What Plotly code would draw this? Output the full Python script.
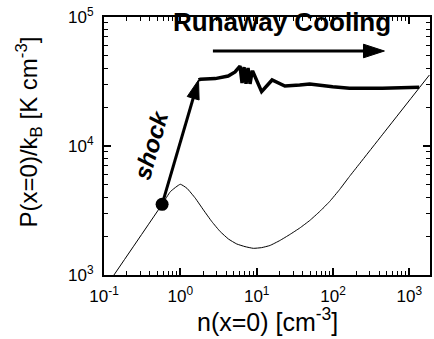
import plotly.graph_objects as go

# Equilibrium (thin) curve
eq_n = [0.135, 0.577, 0.741, 1.0, 1.22, 1.57, 2.01, 2.59, 3.33, 4.27, 5.48, 7.03, 9.04, 11.6, 14.9, 20.1, 27.2, 36.7, 49.5, 66.9, 90.3, 122, 164, 222, 448, 1828]
eq_p = [1000, 3530, 4430, 5050, 4700, 3940, 3190, 2590, 2170, 1900, 1740, 1660, 1610, 1630, 1693, 1850, 2061, 2314, 2645, 3106, 3715, 4600, 5800, 7280, 12340, 35500]

# Runaway cooling (thick) curve
rc_n = [1.73, 1.83, 2.86, 4.23, 5.21, 6.05, 6.43, 6.83, 7.25, 7.7, 8.18, 8.69, 8.95, 11.6, 15.9, 23.4, 36.6, 49.5, 98.9, 164, 444, 1346]
rc_p = [32500, 32900, 33300, 34900, 37500, 41700, 30800, 40900, 30300, 40300, 30300, 37500, 37500, 26400, 32500, 29200, 29700, 30300, 28800, 28000, 28000, 28500]

# Initial state (dot), shock arrow, runaway-cooling arrow
dot_n = [0.577]
dot_p = [3530]
shock_n = [0.577, 1.73]
shock_p = [3530, 32500]
cool_n = [2.67, 471]
cool_p = [54500, 54500]

x_tickvals = [0.1, 1, 10, 100, 1000]
x_ticktext = ["10<sup>-1</sup>", "10<sup>0</sup>", "10<sup>1</sup>", "10<sup>2</sup>", "10<sup>3</sup>"]
x_minor = [m * d for d in [0.1, 1, 10, 100] for m in range(2, 10)]
y_tickvals = [1000, 10000, 100000]
y_ticktext = ["10<sup>3</sup>", "10<sup>4</sup>", "10<sup>5</sup>"]
y_minor = [m * d for d in [1000, 10000] for m in range(2, 10)]

FONT = "Liberation Sans, Arial, Helvetica, sans-serif"

fig = go.Figure()
fig.add_trace(go.Scatter(x=eq_n, y=eq_p, mode="lines", line=dict(color="black", width=1, shape="spline", smoothing=0.4),
                         showlegend=False, hoverinfo="skip"))
fig.add_trace(go.Scatter(x=rc_n, y=rc_p, mode="lines", line=dict(color="black", width=3.5),
                         showlegend=False, hoverinfo="skip"))
fig.add_trace(go.Scatter(x=shock_n, y=shock_p, mode="lines+markers", line=dict(color="black", width=3),
                         marker=dict(symbol="arrow", size=[0, 20], color="black", opacity=1, angleref="previous",
                                     line=dict(width=1, color="black")),
                         showlegend=False, hoverinfo="skip"))
fig.add_trace(go.Scatter(x=cool_n, y=cool_p, mode="lines+markers", line=dict(color="black", width=3),
                         marker=dict(symbol="arrow", size=[0, 22], color="black", opacity=1, angleref="previous",
                                     line=dict(width=1, color="black")),
                         showlegend=False, hoverinfo="skip", cliponaxis=False))
fig.add_trace(go.Scatter(x=dot_n, y=dot_p, mode="markers", marker=dict(color="black", size=13),
                         showlegend=False, hoverinfo="skip"))

fig.add_annotation(x=-0.378, y=4.008, xref="x", yref="y", text="<b><i>shock</i></b>",
                   textangle=-74, showarrow=False, font=dict(family=FONT, size=24, color="black"))
fig.add_annotation(x=1.33, y=4.961, xref="x", yref="y", text="<b>Runaway Cooling</b>",
                   showarrow=False, font=dict(family=FONT, size=26, color="black"))
# axis titles
fig.add_annotation(x=-0.229, y=0.554, xref="paper", yref="paper", xanchor="center", yanchor="middle",
                   text="P(x=0)/k<sub>B</sub> [K cm<sup>-3</sup>]",
                   textangle=-90, showarrow=False, font=dict(family=FONT, size=24, color="black"))
fig.add_annotation(x=0.502, y=-0.174, xref="paper", yref="paper", xanchor="center", yanchor="middle",
                   text="n(x=0) [cm<sup>-3</sup>]",
                   showarrow=False, font=dict(family=FONT, size=25, color="black"))

axis_common = dict(type="log", showline=True, linecolor="black", linewidth=2, mirror="ticks",
                   ticks="inside", ticklen=7, tickwidth=1.5, tickcolor="black", showgrid=False, zeroline=False,
                   automargin=False, ticklabelstandoff=5,
                   tickfont=dict(family=FONT, size=17, color="black"))

fig.update_xaxes(**axis_common, range=[-1, 3.27], tickvals=x_tickvals, ticktext=x_ticktext,
                 minor=dict(tickvals=x_minor, ticks="inside", ticklen=4, tickwidth=1, tickcolor="black", showgrid=False))
fig.update_yaxes(**axis_common, range=[3, 5], tickvals=y_tickvals, ticktext=y_ticktext,
                 minor=dict(tickvals=y_minor, ticks="inside", ticklen=4, tickwidth=1, tickcolor="black", showgrid=False))

fig.update_layout(width=434, height=339, margin=dict(l=104, r=4, t=17, b=64),
                  plot_bgcolor="white", paper_bgcolor="white")

fig.write_html("out.html", config={"displayModeBar": False},
               post_script="document.body.style.margin='0px';")
